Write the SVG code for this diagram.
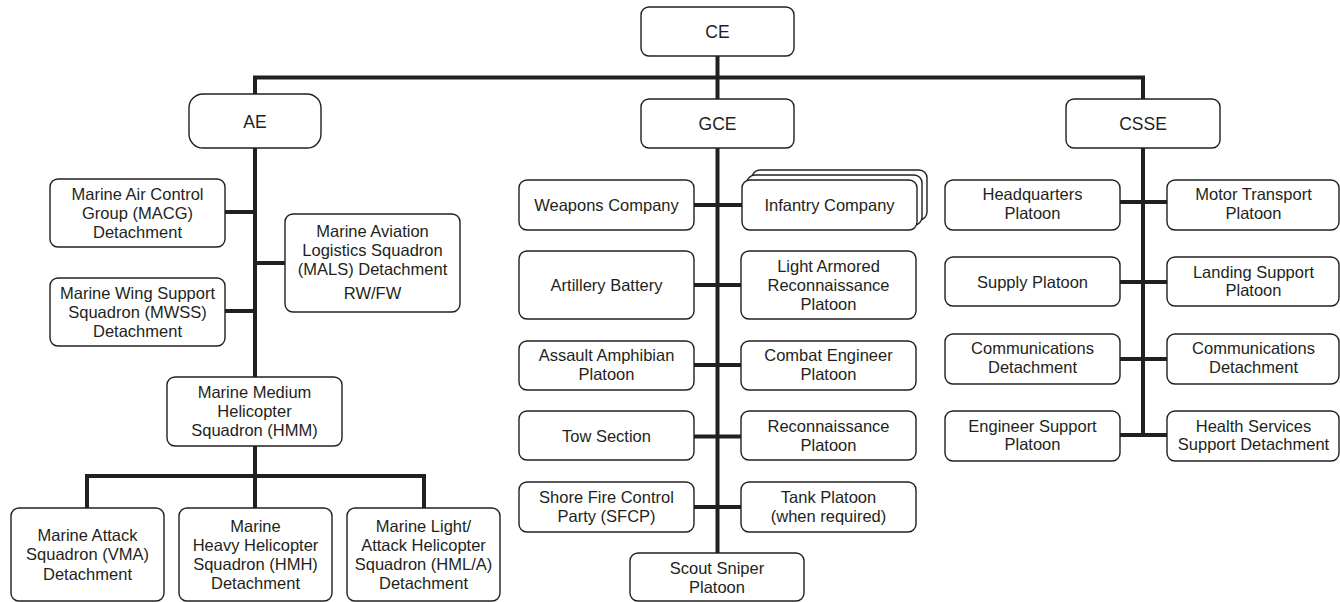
<svg xmlns="http://www.w3.org/2000/svg" width="1340" height="602" viewBox="0 0 1340 602">
<style>
.b{fill:#fff;stroke:#231f20;stroke-width:1.4}
.t{font-family:"Liberation Sans",Arial,sans-serif;font-size:16.5px;fill:#231f20;text-anchor:middle}
.h{font-size:17.5px}
.c{fill:none;stroke:#231f20;stroke-width:4;stroke-linejoin:miter;stroke-linecap:butt}
</style>
<rect width="1340" height="602" fill="#fff"/>
<g id="connectors" class="c">
<path d="M717.5 56V99"/>
<path d="M255 94V77.5H1143V99"/>
<path d="M255 148V377"/>
<path d="M225 212H255"/>
<path d="M225 311H255"/>
<path d="M255 263H285"/>
<path d="M255 446V476"/>
<path d="M87 508V476H424V508"/>
<path d="M255 476V508"/>
<path d="M717.5 148V553"/>
<path d="M694 205H742"/>
<path d="M694 285H741"/>
<path d="M694 365H741"/>
<path d="M694 436.5H741"/>
<path d="M694 507H741"/>
<path d="M1143 148V435"/>
<path d="M1120 202H1167"/>
<path d="M1120 282H1167"/>
<path d="M1120 359H1167"/>
<path d="M1120 435H1167"/>
</g>
<g id="ce"><rect class="b" x="641" y="7" width="153" height="49" rx="8"/><text class="t h" x="717.5" y="37.5">CE</text></g>
<g id="ae"><rect class="b" x="189" y="94" width="132" height="54" rx="14"/><text class="t h" x="255" y="127.5">AE</text></g>
<g id="gce"><rect class="b" x="641" y="99" width="153" height="49" rx="8"/><text class="t h" x="717.5" y="130">GCE</text></g>
<g id="csse"><rect class="b" x="1066" y="99" width="154" height="49" rx="8"/><text class="t h" x="1143" y="130">CSSE</text></g>

<g id="macg"><rect class="b" x="50" y="179" width="175" height="68" rx="8"/><text class="t" x="137.5" y="199.5">Marine Air Control</text><text class="t" x="137.5" y="218.5">Group (MACG)</text><text class="t" x="137.5" y="237.5">Detachment</text></g>
<g id="mwss"><rect class="b" x="50" y="278" width="175" height="68" rx="8"/><text class="t" x="137.5" y="298.5">Marine Wing Support</text><text class="t" x="137.5" y="317.5">Squadron (MWSS)</text><text class="t" x="137.5" y="336.5">Detachment</text></g>
<g id="mals"><rect class="b" x="285" y="214" width="175" height="98" rx="8"/><text class="t" x="372.5" y="236.5">Marine Aviation</text><text class="t" x="372.5" y="255.5">Logistics Squadron</text><text class="t" x="372.5" y="275">(MALS) Detachment</text><text class="t" x="372.5" y="299">RW/FW</text></g>
<g id="hmm"><rect class="b" x="167" y="377" width="175" height="69" rx="8"/><text class="t" x="254.5" y="397.5">Marine Medium</text><text class="t" x="254.5" y="416.5">Helicopter</text><text class="t" x="254.5" y="435.5">Squadron (HMM)</text></g>
<g id="vma"><rect class="b" x="11" y="508" width="153" height="93" rx="8"/><text class="t" x="87.5" y="540.5">Marine Attack</text><text class="t" x="87.5" y="560">Squadron (VMA)</text><text class="t" x="87.5" y="579.5">Detachment</text></g>
<g id="hmh"><rect class="b" x="179" y="508" width="153" height="93" rx="8"/><text class="t" x="255.5" y="531.5">Marine</text><text class="t" x="255.5" y="550.5">Heavy Helicopter</text><text class="t" x="255.5" y="570">Squadron (HMH)</text><text class="t" x="255.5" y="589">Detachment</text></g>
<g id="hmla"><rect class="b" x="347" y="508" width="153" height="93" rx="8"/><text class="t" x="423.5" y="531.5">Marine Light/</text><text class="t" x="423.5" y="550.5">Attack Helicopter</text><text class="t" x="423.5" y="570">Squadron (HML/A)</text><text class="t" x="423.5" y="589">Detachment</text></g>

<g id="weapons"><rect class="b" x="519" y="180" width="175" height="50" rx="8"/><text class="t" x="606.5" y="210.5">Weapons Company</text></g>
<g id="infantry"><rect class="b" x="752" y="170" width="175" height="50" rx="8"/><rect class="b" x="747" y="175" width="175" height="50" rx="8"/><rect class="b" x="742" y="180" width="175" height="50" rx="8"/><text class="t" x="829.5" y="210.5">Infantry Company</text></g>
<g id="artillery"><rect class="b" x="519" y="251" width="175" height="68" rx="8"/><text class="t" x="606.5" y="291">Artillery Battery</text></g>
<g id="lar"><rect class="b" x="741" y="251" width="175" height="68" rx="8"/><text class="t" x="828.5" y="271.5">Light Armored</text><text class="t" x="828.5" y="290.5">Reconnaissance</text><text class="t" x="828.5" y="309.5">Platoon</text></g>
<g id="amphib"><rect class="b" x="519" y="341" width="175" height="49" rx="8"/><text class="t" x="606.5" y="361">Assault Amphibian</text><text class="t" x="606.5" y="380">Platoon</text></g>
<g id="combateng"><rect class="b" x="741" y="341" width="175" height="49" rx="8"/><text class="t" x="828.5" y="361">Combat Engineer</text><text class="t" x="828.5" y="380">Platoon</text></g>
<g id="tow"><rect class="b" x="519" y="411" width="175" height="49" rx="8"/><text class="t" x="606.5" y="442">Tow Section</text></g>
<g id="recon"><rect class="b" x="741" y="411" width="175" height="49" rx="8"/><text class="t" x="828.5" y="432">Reconnaissance</text><text class="t" x="828.5" y="451">Platoon</text></g>
<g id="sfcp"><rect class="b" x="519" y="482" width="175" height="50" rx="8"/><text class="t" x="606.5" y="502.5">Shore Fire Control</text><text class="t" x="606.5" y="521.5">Party (SFCP)</text></g>
<g id="tank"><rect class="b" x="741" y="482" width="175" height="50" rx="8"/><text class="t" x="828.5" y="502.5">Tank Platoon</text><text class="t" x="828.5" y="521.5">(when required)</text></g>
<g id="sniper"><rect class="b" x="630" y="553" width="174" height="48" rx="8"/><text class="t" x="717" y="574">Scout Sniper</text><text class="t" x="717" y="592.5">Platoon</text></g>

<g id="hq"><rect class="b" x="945" y="180" width="175" height="50" rx="8"/><text class="t" x="1032.5" y="200">Headquarters</text><text class="t" x="1032.5" y="219">Platoon</text></g>
<g id="motor"><rect class="b" x="1167" y="180" width="172" height="50" rx="8"/><text class="t" x="1253.5" y="200">Motor Transport</text><text class="t" x="1253.5" y="219">Platoon</text></g>
<g id="supply"><rect class="b" x="945" y="257" width="175" height="49" rx="8"/><text class="t" x="1032.5" y="287.5">Supply Platoon</text></g>
<g id="landing"><rect class="b" x="1167" y="257" width="172" height="49" rx="8"/><text class="t" x="1253.5" y="277.5">Landing Support</text><text class="t" x="1253.5" y="296">Platoon</text></g>
<g id="comm1"><rect class="b" x="945" y="334" width="175" height="50" rx="8"/><text class="t" x="1032.5" y="354">Communications</text><text class="t" x="1032.5" y="373">Detachment</text></g>
<g id="comm2"><rect class="b" x="1167" y="334" width="172" height="50" rx="8"/><text class="t" x="1253.5" y="354">Communications</text><text class="t" x="1253.5" y="373">Detachment</text></g>
<g id="engsup"><rect class="b" x="945" y="411" width="175" height="50" rx="8"/><text class="t" x="1032.5" y="431.5">Engineer Support</text><text class="t" x="1032.5" y="450">Platoon</text></g>
<g id="health"><rect class="b" x="1167" y="411" width="172" height="50" rx="8"/><text class="t" x="1253.5" y="431.5">Health Services</text><text class="t" x="1253.5" y="450">Support Detachment</text></g>
</svg>
